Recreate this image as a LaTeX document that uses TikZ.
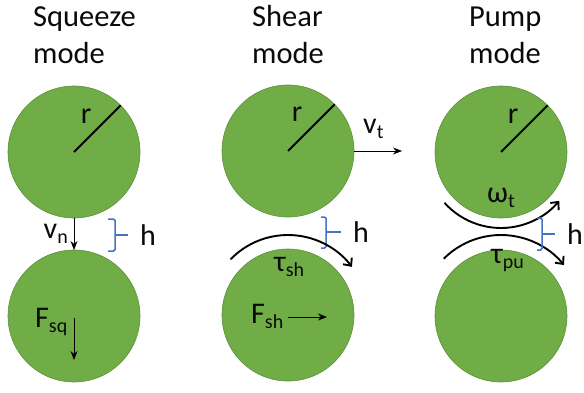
\documentclass[tikz,border=0pt]{standalone}
\usepackage{fontspec}
\setmainfont{Carlito}
\usetikzlibrary{arrows.meta}
\definecolor{ballgreen}{HTML}{70AD47}
\definecolor{balledge}{HTML}{5B8F3A}
\definecolor{gapblue}{HTML}{4472C4}
\definecolor{ink}{HTML}{0A0A0A}
\newcommand{\lowsub}[1]{\raisebox{-5pt}{\fontsize{20}{20}\selectfont #1}}
\begin{document}
\begin{tikzpicture}[x=1pt,y=1pt,
  ball/.style={circle, fill=ballgreen, draw=balledge, line width=0.6pt, minimum size=132pt, inner sep=0pt, outer sep=0pt},
  title/.style={font=\fontsize{30.5}{36}\selectfont, text=ink, anchor=base west, inner sep=0pt},
  lbl/.style={font=\fontsize{30}{32}\selectfont, text=ink, inner sep=0pt},
  radline/.style={line width=1.9pt},
  thinarrow/.style={line width=0.8pt, -{Stealth[length=9pt,width=7pt]}},
  turn/.style={line width=1.9pt, -{Straight Barb[length=6pt,width=11pt]}},
  gapmark/.style={gapblue, line width=1.5pt, rounded corners=1.5pt}]
\useasboundingbox (0,0) rectangle (584,392);

% titles
\node[title] (t1a) at (33,365) {Squeeze};
\node[title] (t1b) at (33,329) {mode};
\node[title] (t2a) at (252,365) {Shear};
\node[title] (t2b) at (252,329) {mode};
\node[title] (t3a) at (469,365) {Pump};
\node[title] (t3b) at (469,329) {mode};

% balls
\node[ball] (sqT) at (74,240) {};
\node[ball] (sqB) at (74,76) {};
\node[ball] (shT) at (288,241) {};
\node[ball] (shB) at (288,77) {};
\node[ball] (puT) at (501,240) {};
\node[ball] (puB) at (501,76) {};

% radii
\draw[radline] (sqT.center) -- (sqT.45);
\draw[radline] (shT.center) -- (shT.45);
\draw[radline] (puT.center) -- (puT.45);
\node[lbl, anchor=base] (rsq) at (86,269) {r};
\node[lbl, anchor=base] (rsh) at (297,271) {r};
\node[lbl, anchor=base] (rpu) at (513,269) {r};

% squeeze mode
\draw[thinarrow] (sqT.south) -- (sqB.north);
\node[lbl, anchor=base east] (vn) at (68,154) {v\lowsub{n}};
\draw[gapmark] (108,173) -- (115,173) -- (115,141) -- (108,141);
\draw[gapmark] (115,157) -- (128,157);
\node[lbl, anchor=west] (hsq) at (140,157) {h};
\node[lbl, anchor=base west] (fsq) at (35,65) {F\lowsub{sq}};
\coordinate (fsqS) at (74,74);
\coordinate (fsqE) at (74,32);
\draw[thinarrow] (fsqS) -- (fsqE);

% shear mode
\coordinate (vtE) at (402,241);
\draw[thinarrow] (shT.east) -- (vtE);
\node[lbl, anchor=base west] (vt) at (363,259) {v\lowsub{t}};
\draw[gapmark] (321,175) -- (326,175) -- (326,144) -- (321,144);
\draw[gapmark] (326,160) -- (341,160);
\node[lbl, anchor=west] (hsh) at (353,160) {h};
\draw[turn] ([shift={(136:80)}]shB.center) arc[start angle=136, end angle=37, radius=80];
\node[lbl, anchor=base west] (tsh) at (274,121) {τ\lowsub{sh}};
\node[lbl, anchor=base west] (fsh) at (251,69) {F\lowsub{sh}};
\coordinate (fshS) at (288,75);
\coordinate (fshE) at (327,75);
\draw[thinarrow] (fshS) -- (fshE);

% pump mode
\draw[turn] ([shift={(-138:76)}]puT.center) arc[start angle=-138, end angle=-40, radius=76];
\draw[turn] ([shift={(135:81)}]puB.center) arc[start angle=135, end angle=39, radius=81];
\node[lbl, anchor=base west] (wt) at (487,190) {ω\lowsub{t}};
\node[lbl, anchor=base west] (tpu) at (491,129) {τ\lowsub{pu}};
\draw[gapmark] (537,174) -- (542,174) -- (542,142) -- (537,142);
\draw[gapmark] (542,158) -- (555,158);
\node[lbl, anchor=west] (hpu) at (567,158) {h};
\end{tikzpicture}
\end{document}
